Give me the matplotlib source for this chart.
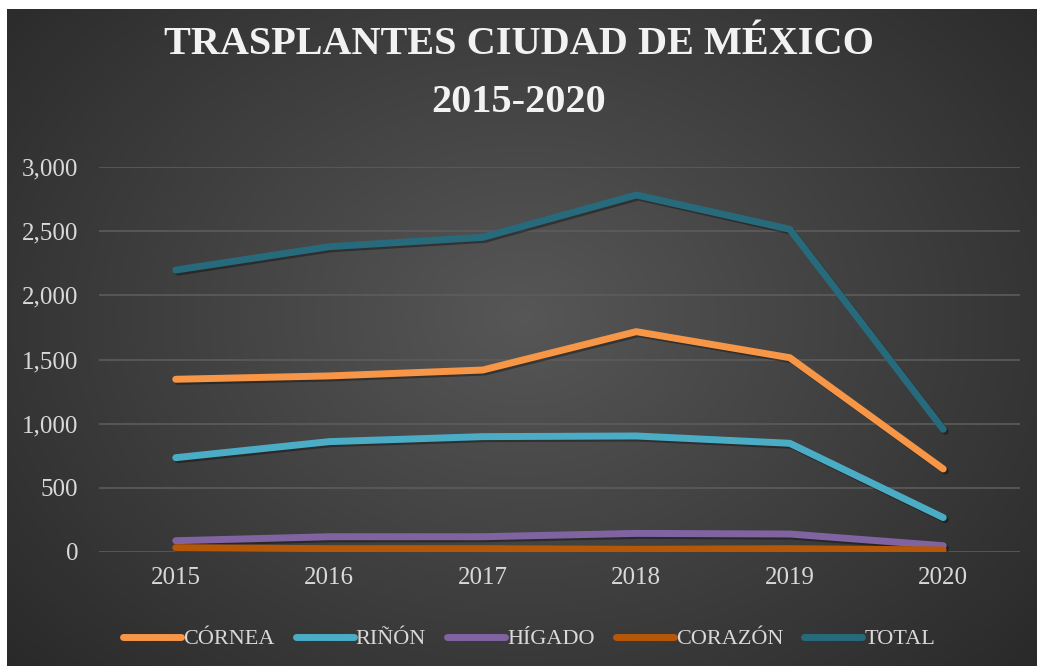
import numpy as np
import matplotlib.pyplot as plt
import matplotlib.patheffects as pe
from matplotlib.ticker import FuncFormatter

years = ["2015", "2016", "2017", "2018", "2019", "2020"]
cornea = [1346, 1372, 1418, 1717, 1514, 647]
rinon = [735, 860, 899, 904, 847, 268]
higado = [88, 119, 119, 145, 140, 49]
corazon = [34, 26, 26, 21, 26, 16]
total = [2197, 2379, 2452, 2782, 2515, 956]

series = [
    ("CÓRNEA", cornea, "#F79646"),
    ("RIÑÓN", rinon, "#4BACC6"),
    ("HÍGADO", higado, "#8064A2"),
    ("CORAZÓN", corazon, "#B65708"),
    ("TOTAL", total, "#276A7C"),
]

plt.rcParams["font.family"] = ["Liberation Serif", "DejaVu Serif"]

W, H = 1037, 666
fig = plt.figure(figsize=(W / 100, H / 100), dpi=100, facecolor="white")

# radial gradient background (chart area starts a few px in from top-left)
bg = fig.add_axes([7 / W, 0, 1 - 7 / W, 1 - 9 / H])
bg.set_axis_off()
yy, xx = np.mgrid[0:300, 0:470]
cx, cy = 235, 140
r = np.sqrt(((xx - cx) / 300) ** 2 + ((yy - cy) / 230) ** 2)
shade = np.clip(0.34 - 0.17 * r, 0.15, 0.35)
bg.imshow(np.dstack([shade] * 3), aspect="auto", extent=[0, 1, 0, 1], interpolation="bicubic")

ax = fig.add_axes([99 / W, 114 / H, 921 / W, 385 / H])
ax.set_facecolor("none")

x = np.arange(len(years))
shadow = [pe.SimpleLineShadow(offset=(1.5, -1.5), shadow_color="black", alpha=0.35), pe.Normal()]
for name, vals, col in series:
    ax.plot(x, vals, color=col, lw=5, solid_capstyle="round", solid_joinstyle="round",
            label=name, path_effects=shadow)

ax.set_xlim(-0.5, len(years) - 0.5)
ax.set_ylim(0, 3000)
ax.set_yticks(range(0, 3001, 500))
ax.yaxis.set_major_formatter(FuncFormatter(lambda v, p: f"{int(v):,}"))
ax.set_xticks(x)
ax.set_xticklabels(years)
ax.grid(axis="y", color="#5c5c5c", lw=1.2)
ax.set_axisbelow(True)
for s in ax.spines.values():
    s.set_visible(False)
ax.tick_params(length=0, colors="#d9d9d9", labelsize=18)
ax.tick_params(axis="y", pad=15)
ax.tick_params(axis="x", pad=11)

fig.text(0.5, 1 - 54 / H, "TRASPLANTES CIUDAD DE MÉXICO", ha="center", va="baseline",
         color="#f2f2f2", fontsize=29, fontweight="bold")
fig.text(0.5, 1 - 112 / H, "2015-2020", ha="center", va="baseline",
         color="#f2f2f2", fontsize=29, fontweight="bold")

leg = ax.legend(loc="center", bbox_to_anchor=(0.467, -0.226), ncol=5, frameon=False,
                fontsize=16, handlelength=2.6, handletextpad=0.1, columnspacing=0.95,
                labelcolor="#d9d9d9")
for h in leg.legend_handles:
    h.set_path_effects([])

fig.savefig("out.png", dpi=100, facecolor="white")
